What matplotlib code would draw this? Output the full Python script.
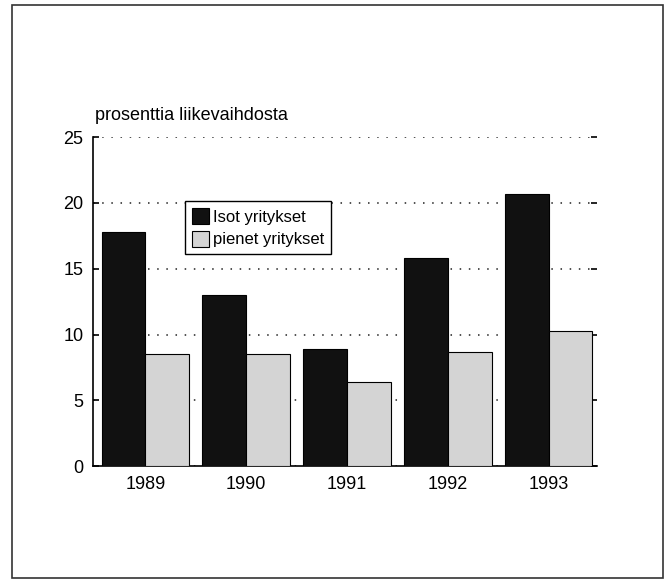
import numpy as np
import matplotlib.pyplot as plt
from matplotlib.patches import Rectangle

plt.rcParams['font.family'] = ['Liberation Sans', 'DejaVu Sans']

years = ["1989", "1990", "1991", "1992", "1993"]
isot = [17.8, 13.0, 8.9, 15.8, 20.7]
pienet = [8.5, 8.5, 6.4, 8.7, 10.3]
yticks = [0, 5, 10, 15, 20, 25]

fig = plt.figure(figsize=(6.71, 5.79), dpi=100)
# outer frame round the whole picture
fig.patches.append(Rectangle((12 / 671, 1 / 579), 651 / 671, 573 / 579,
                             transform=fig.transFigure, fill=False,
                             edgecolor='#333333', linewidth=1.2))

ax = fig.add_axes([0.1386, 0.195, 0.751, 0.568])
x = np.arange(len(years))
w = 0.435
ax.bar(x - w / 2, isot, w, color='#111111', edgecolor='#000000',
       linewidth=0.8, label="Isot yritykset", zorder=3)
ax.bar(x + w / 2, pienet, w, color='#d4d4d4', edgecolor='#000000',
       linewidth=0.8, label="pienet yritykset", zorder=3)

ax.set_xlim(-0.52, 4.48)
ax.set_ylim(0, 25)
ax.set_yticks(yticks)
ax.set_xticks(x)
ax.set_xticklabels(years)
ax.tick_params(axis='both', labelsize=13, length=0, pad=7)
ax.tick_params(axis='y', right=True, direction='in', length=4, width=1.2)
ax.yaxis.grid(True, linestyle=(0, (1, 5)), color='#222222', linewidth=1.1, zorder=0)
for s in ['top', 'right']:
    ax.spines[s].set_visible(False)
ax.spines['left'].set_linewidth(1.2)
ax.spines['bottom'].set_linewidth(1.2)

fig.text(95 / 671, 1 - 115 / 579, "prosenttia liikevaihdosta", fontsize=13,
         va='center', ha='left')

leg = ax.legend(loc='upper left', bbox_to_anchor=(0.183, 0.805), fontsize=12,
                borderaxespad=0, frameon=True, fancybox=False, edgecolor='#000000',
                handlelength=1.0, handleheight=1.1, handletextpad=0.25,
                borderpad=0.4, labelspacing=0.35, framealpha=1)
leg.get_frame().set_linewidth(1.0)
leg.set_zorder(5)

fig.savefig("out.png", dpi=100)
